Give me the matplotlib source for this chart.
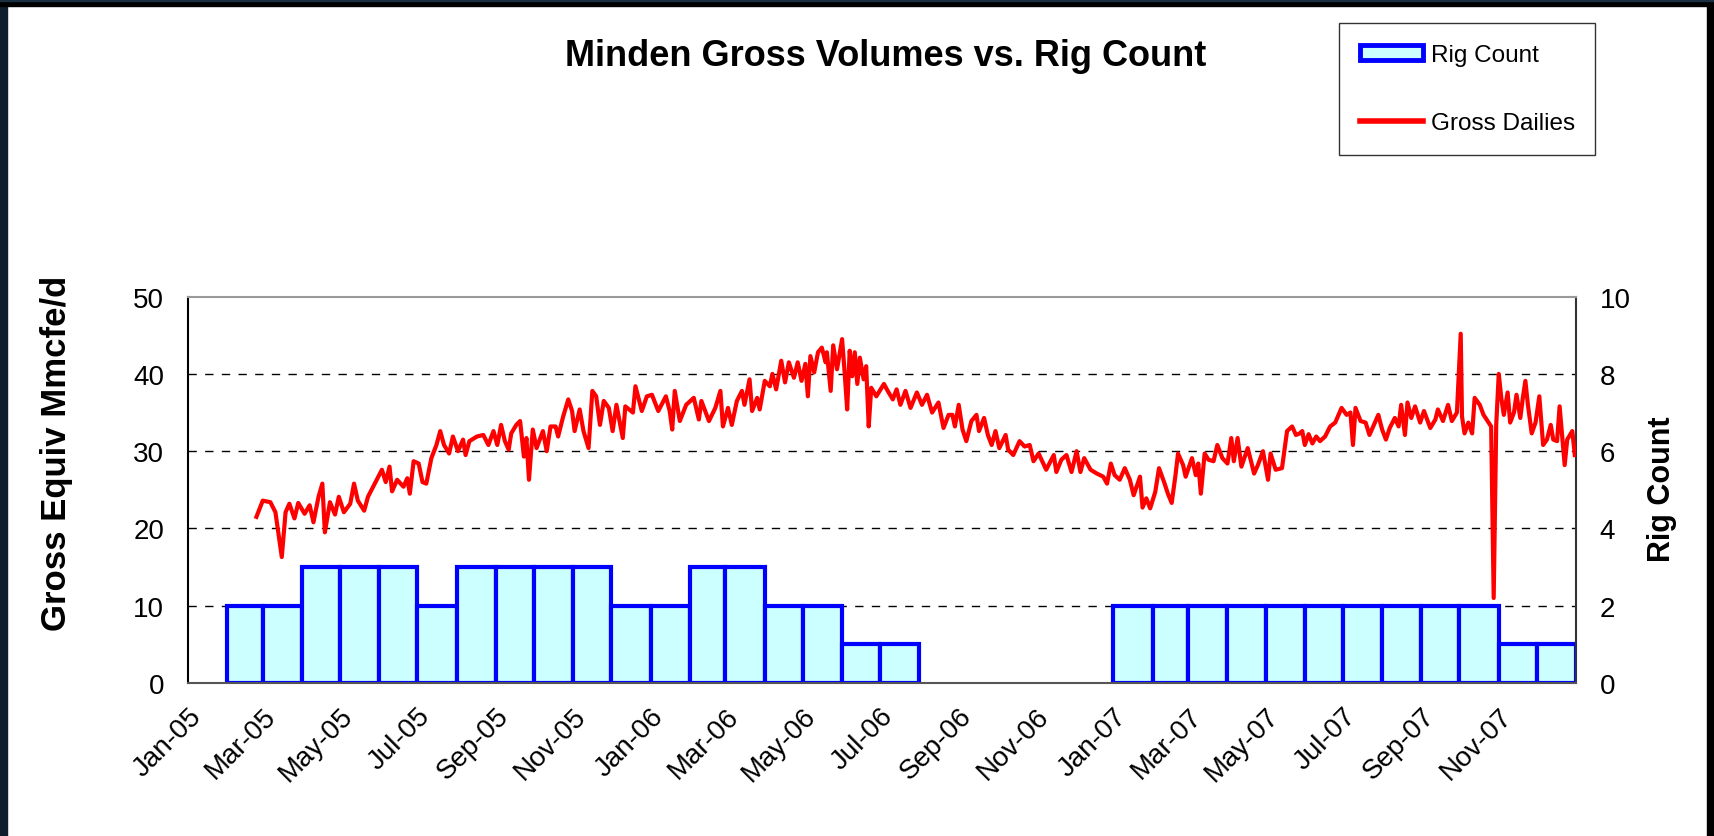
import matplotlib
matplotlib.use('Agg')
import matplotlib.pyplot as plt
import matplotlib.dates as mdates
from matplotlib.patches import Patch, Rectangle
from matplotlib.lines import Line2D
import pandas as pd

plt.rcParams['font.family'] = ['Liberation Sans', 'DejaVu Sans']

# monthly rig count, Jan-05 .. Dec-07
rig_count = [0, 2, 2, 3, 3, 3, 2, 3, 3, 3, 3, 2,
             2, 3, 3, 2, 2, 1, 1, 0, 0, 0, 0, 0,
             2, 2, 2, 2, 2, 2, 2, 2, 2, 2, 1, 1]

# gross dailies (Mmcfe/d), sampled off the chart; day = days after 1-Jan-2005
gross_day = [
    54, 59, 65, 69, 74, 77, 80, 84, 87, 92, 96, 99, 103, 106, 108, 112, 116, 119,
    123, 128, 131, 134, 139, 142, 148, 153, 156, 159, 161, 165, 170, 173, 175, 178,
    182, 185, 188, 192, 196, 199, 202, 206, 209, 213, 217, 219, 222, 228, 233, 237,
    241, 244, 247, 250, 253, 255, 259, 262, 265, 267, 269, 272, 275, 278, 280, 283,
    286, 290, 292, 296, 300, 303, 305, 309, 312, 316, 319, 322, 325,
    328, 332, 335, 338, 343, 345, 351, 353, 358, 362, 366, 371, 377, 380, 382, 384,
    388, 393, 399, 403, 405, 411, 416, 420, 422, 426, 429, 433, 437, 439, 443, 445,
    449, 451, 455, 459, 461, 464, 468, 471, 474, 478, 481, 484, 487, 489, 491, 494,
    497, 500, 503, 504, 507, 509, 512, 516, 518, 520, 522, 524, 526, 528, 530, 533,
    535, 537, 539, 543, 549, 552, 556, 559, 562, 566, 570, 575, 579, 583, 587, 592,
    596, 600,
    603, 605, 608, 611, 614, 618, 622, 624, 628, 631, 634, 637, 640, 645, 647, 651,
    656, 660, 664, 667, 671, 677, 683, 685, 689, 693, 697, 701, 704, 707, 712, 717,
    722, 725, 728, 731, 735, 739, 743, 746, 751, 753, 756, 759, 763, 766, 770, 773,
    776, 779, 781, 785, 787, 792, 795, 797, 799, 802, 805, 809, 812, 816, 820, 823,
    825, 828, 831, 836, 841, 844, 848, 852, 854, 858, 863, 867, 871, 874, 877,
    879, 881, 884, 887, 890, 893, 897, 901, 905, 910, 914, 917, 919, 921, 925, 929,
    932, 935, 939, 942, 945, 948, 952, 955, 957, 960, 962, 965, 968, 972, 975, 980,
    984, 986, 990, 994, 997, 1001, 1004, 1005, 1007, 1010, 1013, 1015, 1019, 1022,
    1026, 1028, 1030, 1032, 1034, 1036, 1038, 1041, 1043, 1046, 1048, 1051, 1053,
    1055, 1057, 1060, 1063, 1066, 1069, 1072, 1075, 1077, 1080, 1082, 1086, 1088,
    1092, 1094]
gross_val = [
    21.5, 23.6, 23.4, 22.1, 16.3, 22.1, 23.2, 21.3, 23.3, 21.9, 23.0, 20.8, 24.1, 25.8, 19.5, 23.4, 21.8, 24.1,
    22.1, 23.2, 25.8, 23.6, 22.3, 24.1, 26.0, 27.6, 26.0, 28.0, 24.8, 26.3, 25.4, 26.5, 24.5, 28.7,
    28.4, 26.0, 25.8, 29.1, 30.8, 32.6, 30.8, 29.7, 31.9, 30.0, 31.5, 29.5, 31.3, 31.9, 32.1, 30.8,
    32.6, 30.8, 33.4, 31.3, 30.2, 32.3, 33.4, 33.9, 29.3, 31.7, 26.3, 32.8, 30.4, 31.7, 32.6, 30.0,
    33.2, 33.2, 31.9, 34.5, 36.7, 35.2, 32.6, 35.4, 32.6, 30.4, 37.8, 37.1, 33.4,
    36.5, 35.6, 32.6, 36.0, 31.7, 35.8, 35.0, 38.4, 35.2, 37.1, 37.3, 35.2, 37.1, 35.2, 32.8, 37.8,
    33.9, 36.0, 36.9, 34.1, 36.5, 33.9, 35.6, 37.8, 33.2, 35.6, 33.4, 36.5, 37.8, 36.0, 39.3, 35.2,
    36.9, 35.4, 39.1, 38.4, 40.0, 38.0, 41.7, 38.9, 41.5, 39.5, 41.5, 39.1, 41.3, 37.1, 42.3, 40.2,
    42.8, 43.4, 41.5, 42.8, 37.8, 43.7, 40.6, 44.5, 40.2, 35.4, 43.0, 39.7, 42.8, 38.7, 42.1, 39.3,
    41.0, 33.2, 38.2, 37.1, 38.7, 37.8, 36.7, 38.0, 36.0, 37.8, 35.6, 37.6, 36.0, 37.3, 35.0, 36.3,
    33.0, 34.7,
    34.7, 33.2, 36.0, 32.8, 31.3, 33.9, 34.7, 32.6, 34.3, 32.1, 30.8, 32.6, 30.4, 32.1, 30.2, 29.5,
    31.3, 30.6, 30.8, 28.7, 29.7, 27.6, 29.5, 27.3, 28.9, 29.5, 27.3, 30.0, 27.3, 29.1, 27.6, 27.1,
    26.7, 25.8, 28.4, 26.9, 26.3, 27.8, 26.3, 24.3, 26.7, 22.7, 23.9, 22.6, 24.7, 27.8, 26.0, 24.5,
    23.3, 26.9, 29.7, 28.2, 26.7, 29.1, 26.9, 28.4, 24.5, 29.7, 28.9, 28.7, 30.8, 29.1, 28.4, 31.7,
    28.7, 31.7, 28.0, 30.4, 27.1, 28.2, 30.0, 26.3, 29.7, 27.6, 27.8, 32.6, 33.2, 32.1, 32.3,
    32.6, 30.8, 32.2, 31.0, 31.9, 31.3, 31.9, 33.2, 33.7, 35.6, 34.7, 35.0, 30.8, 35.6, 33.9, 33.7,
    32.1, 33.2, 34.7, 32.8, 31.5, 33.0, 34.3, 33.2, 36.0, 32.1, 36.3, 34.3, 35.8, 33.7, 35.2, 33.0,
    34.1, 35.4, 33.9, 36.0, 33.9, 35.0, 45.2, 34.5, 32.3, 33.7, 32.3, 36.9, 36.0, 34.7,
    33.7, 33.2, 11.0, 33.4, 40.0, 36.9, 34.7, 37.6, 33.7, 35.0, 37.3, 34.3, 36.9,
    39.1, 36.0, 32.3, 33.7, 37.1, 30.8, 31.5, 33.4, 31.5, 31.3, 35.8, 28.2, 31.5,
    32.6, 29.5]

left_ticks = [0, 10, 20, 30, 40, 50]
right_ticks = [0, 2, 4, 6, 8, 10]

start = pd.Timestamp('2005-01-01')
months = pd.date_range(start, periods=len(rig_count), freq='MS')
month_days = months.days_in_month
gross_dates = start + pd.to_timedelta(gross_day, unit='D')

fig = plt.figure(figsize=(17.15, 8.37), dpi=100)
ax = fig.add_axes([0.1096, 0.1828, 0.8094, 0.4616])
ax2 = ax.twinx()
ax.set_zorder(2)
ax2.set_zorder(1)
ax.patch.set_visible(False)

# rig count bars (right axis), zero months are left empty
keep = [i for i, r in enumerate(rig_count) if r > 0]
ax2.bar(mdates.date2num(months[keep]), [rig_count[i] for i in keep],
        width=month_days[keep], align='edge', color='#ccffff',
        edgecolor='#0000ff', linewidth=3.0, zorder=2)
for v in right_ticks[1:-1]:
    ax2.axhline(v, color='black', lw=1.0, ls=(0, (6, 6)), zorder=1)

ax.plot(gross_dates, gross_val, color='#ff0000', lw=3.0, zorder=3)

ax.set_xlim(start, pd.Timestamp('2008-01-01'))
ax.set_ylim(0, 50)
ax2.set_ylim(0, 10)
ax.set_yticks(left_ticks)
ax2.set_yticks(right_ticks)

xt = pd.date_range(start, '2007-11-01', freq='2MS')
ax.set_xticks(xt)
ax.set_xticklabels([d.strftime('%b-%y') for d in xt], rotation=45,
                   ha='right', va='top', rotation_mode='anchor')
ax.tick_params(axis='x', length=0, pad=14, labelsize=20)
ax.tick_params(axis='y', length=0, pad=17, labelsize=20)
ax2.tick_params(axis='y', length=0, pad=17, labelsize=20)

for s in ax2.spines.values():
    s.set_visible(False)
ax.spines['left'].set_color('black')
ax.spines['right'].set_color('#333333')
ax.spines['bottom'].set_color('#555555')
ax.spines['top'].set_color('#999999')
for s in ax.spines.values():
    s.set_linewidth(1.5)

fig.text(0.5166, 0.933, 'Minden Gross Volumes vs. Rig Count', ha='center',
         va='center', fontsize=26, fontweight='bold')
fig.text(0.033, 0.458, 'Gross Equiv Mmcfe/d', rotation=90, ha='center',
         va='center', fontsize=25, fontweight='bold')
fig.text(0.969, 0.416, 'Rig Count', rotation=90, ha='center',
         va='center', fontsize=22, fontweight='bold')

handles = [Patch(facecolor='#ccffff', edgecolor='#0000ff', linewidth=3.5),
           Line2D([], [], color='#ff0000', lw=4)]
leg = fig.legend(handles, ['Rig Count', 'Gross Dailies'], loc='upper left',
                 bbox_to_anchor=(0.781, 0.971), fontsize=17.5, frameon=True,
                 fancybox=False, shadow=False, borderpad=0.85, labelspacing=1.9,
                 handlelength=2.6, handleheight=0.6, handletextpad=0.3,
                 borderaxespad=0)
leg.get_frame().set_edgecolor('black')
leg.get_frame().set_linewidth(1.0)

# dark frame around the picture (left, top, right)
W, H = 1715, 837
fig.add_artist(Rectangle((0, 0), 7 / W, 1, transform=fig.transFigure,
                         color='#0f1f2d', zorder=10))
fig.add_artist(Rectangle((0, 1 - 7 / H), 1, 7 / H, transform=fig.transFigure,
                         color='#000000', zorder=10))
fig.add_artist(Rectangle((0, 1 - 2 / H), 1, 2 / H, transform=fig.transFigure,
                         color='#1a2f42', zorder=11))
fig.add_artist(Rectangle((1 - 8 / W, 0), 8 / W, 1, transform=fig.transFigure,
                         color='#000000', zorder=10))

fig.savefig('out.png', dpi=100, facecolor='white')
